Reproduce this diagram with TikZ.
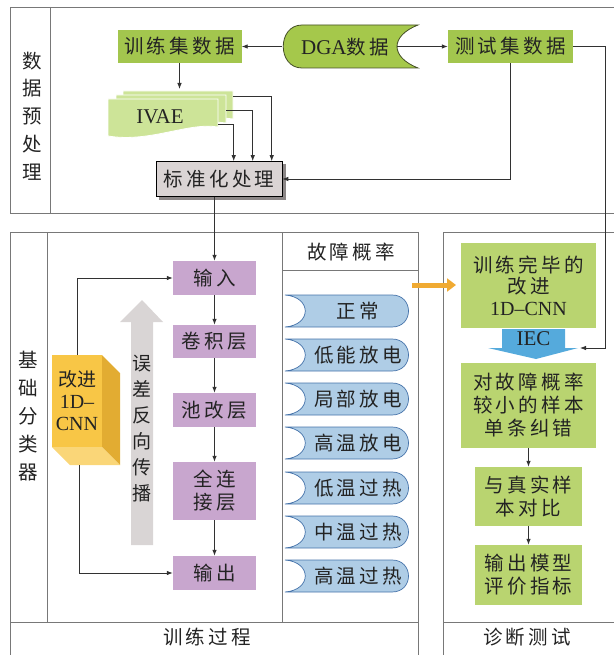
\documentclass[tikz,border=0pt]{standalone}
\usepackage{fontspec}
\setmainfont{Liberation Serif}
\newfontfamily\cjk[LetterSpace=17]{Noto Sans CJK SC}
\newfontfamily\cjkv{Noto Sans CJK SC}
\newfontfamily\lat{Liberation Serif}
\usetikzlibrary{arrows.meta,calc}
\definecolor{framec}{RGB}{120,120,120}
\definecolor{linec}{RGB}{50,50,50}
\definecolor{txtc}{RGB}{35,35,35}
\definecolor{greenA}{RGB}{163,198,78}
\definecolor{greenB}{RGB}{185,212,112}
\definecolor{greenL}{RGB}{205,228,152}
\definecolor{dgafill}{RGB}{165,200,75}
\definecolor{dgaline}{RGB}{70,80,40}
\definecolor{purp}{RGB}{200,166,206}
\definecolor{bluef}{RGB}{175,205,230}
\definecolor{bluel}{RGB}{70,115,170}
\definecolor{iecc}{RGB}{85,170,220}
\definecolor{orangeA}{RGB}{240,170,50}
\definecolor{yfront}{RGB}{248,198,70}
\definecolor{yside}{RGB}{226,172,50}
\definecolor{ybot}{RGB}{250,214,120}
\definecolor{grayA}{RGB}{217,213,213}
\definecolor{stdf}{RGB}{218,212,212}
\definecolor{stds}{RGB}{140,135,135}
\begin{document}
\begin{tikzpicture}[x=1pt,y=-1pt,
  frame/.style={draw=framec,line width=0.9pt},
  con/.style={draw=linec,line width=0.8pt},
  arr/.style={con,-{Latex[length=6pt,width=4.5pt]}},
  zh/.style={font=\cjk\fontsize{19.5}{22}\selectfont,align=center,inner sep=0pt,text=txtc},
  vz/.style={font=\cjkv\fontsize{19.5}{27.8}\selectfont,align=center,inner sep=0pt,text=txtc},
  pbox/.style={zh,fill=purp,minimum width=83pt},
  blueshape/.style={fill=bluef,draw=bluel,line width=0.7pt},
  doc/.style={fill=greenL,draw=white,line width=0.8pt},
  latf/.style={font=\lat\fontsize{21}{22}\selectfont,text=txtc,inner sep=0pt}
]
\useasboundingbox (0,0) rectangle (613,655);

% ---------- frames ----------
\draw[frame] (10,7) rectangle (625,213);
\draw[frame] (50,7) -- (50,213);
\draw[frame] (10,660) -- (10,232) -- (418,232) -- (418,660);
\draw[frame] (47,232) -- (47,622);
\draw[frame] (282,232) -- (282,622);
\draw[frame] (10,622) -- (418,622);
\draw[frame] (282,270) -- (418,270);
\draw[frame] (443,660) -- (443,232) -- (625,232);
\draw[frame] (443,622) -- (625,622);

% ---------- labels ----------
\node[vz] (lblA) at (32,116) {数\\据\\预\\处\\理};
\node[vz] (lblB) at (28,416) {基\\础\\分\\类\\器};
\node[zh] (lblC) at (207,637) {训练过程};
\node[zh] (lblD) at (527,637) {诊断测试};
\node[zh] (lblE) at (351,252) {故障概率};

% ---------- top row ----------
\node[zh,fill=greenA,minimum width=124pt,minimum height=33pt] (train) at (179.5,46.5) {训练集数据};
\node[zh,fill=greenA,minimum width=125pt,minimum height=33pt] (test) at (510.5,46.5) {测试集数据};
\path[fill=dgafill,draw=dgaline,line width=0.8pt]
  (302,25) -- (418,25) .. controls (390,36) and (390,57) .. (418,68)
  -- (302,68) .. controls (277,68) and (277,25) .. (302,25) -- cycle;
\node[zh] (dga) at (345,47) {{\lat\fontsize{21}{22}\selectfont DGA}数据};
\coordinate (dgaL) at (282,46.5);
\coordinate (dgaR) at (397,46.5);
\draw[arr] (dgaL) -- (train.east);
\draw[arr] (dgaR) -- (test.west);

% ---------- IVAE ----------
\foreach \dx/\dy in {15/-8,8/-4,0/0}{
  \path[doc] (108+\dx,99+\dy) -- (218+\dx,99+\dy) -- (218+\dx,127+\dy)
    .. controls (188+\dx,122+\dy) and (150+\dx,143+\dy) .. (108+\dx,136+\dy) -- cycle;
}
\node[latf] (ivae) at (160,117) {IVAE};
\coordinate (ivtop) at (179.5,89);
\draw[arr] (train.south) -- (ivtop);

% ---------- standardisation ----------
\fill[stds] (159,164) rectangle (286,200);
\node[zh,fill=stdf,draw=black,line width=0.6pt,minimum width=126pt,minimum height=35pt] (std) at (219,179) {标准化处理};
\coordinate (d1) at (218,124);
\coordinate (d2) at (226,110);
\coordinate (d3) at (233,96);
\draw[arr] (d1) -| ($(std.north west)+(78,0)$);
\draw[arr] (d2) -| ($(std.north west)+(97,0)$);
\draw[arr] (d3) -| ($(std.north west)+(116,0)$);
\draw[arr] (test.south) |- (std.east);

% ---------- training column ----------
\node[pbox,minimum height=34pt] (in) at (214.5,278) {输入};
\node[pbox,minimum height=33pt] (conv) at (214.5,341.5) {卷积层};
\node[pbox,minimum height=34pt] (pool) at (214.5,410) {池改层};
\node[pbox,minimum height=58pt,font=\cjk\fontsize{19.5}{23}\selectfont] (fc) at (214.5,491) {全连\\接层};
\node[pbox,minimum height=34pt] (out) at (214.5,573) {输出};
\draw[arr] (std.south -| in.north) -- (in.north);
\draw[arr] (in.south) -- (conv.north);
\draw[arr] (conv.south) -- (pool.north);
\draw[arr] (pool.south) -- (fc.north);
\draw[arr] (fc.south) -- (out.north);

% gray back-propagation arrow
\fill[grayA] (131,545) -- (131,322) -- (120,322) -- (142,300) -- (163,322) -- (153,322) -- (153,545) -- cycle;
\node[font=\cjkv\fontsize{19}{26}\selectfont,align=center,inner sep=0pt,text=txtc] (bp) at (142,429) {误\\差\\反\\向\\传\\播};

% yellow cuboid
\fill[yside] (102,355) -- (120,373) -- (120,465) -- (102,447) -- cycle;
\fill[ybot] (52,447) -- (102,447) -- (120,465) -- (70,465) -- cycle;
\node[fill=yfront,minimum width=50pt,minimum height=92pt,inner sep=0pt,align=center,
  font=\cjkv\fontsize{19}{22}\selectfont,text=txtc] (cnn) at (77,401)
  {改进\\{\lat\fontsize{20}{22}\selectfont 1D–}\\{\lat\fontsize{20}{22}\selectfont CNN}};
\coordinate (cnnb) at (79,465);
\draw[arr] (cnn.north) |- (in.west);
\draw[arr] (cnnb) |- (out.west);

% ---------- fault probability column ----------
\foreach \yy/\lbl [count=\i] in {311/正常,355/低能放电,399/局部放电,443/高温放电,488/低温过热,532/中温过热,576/高温过热}{
  \path[blueshape] (285,\yy-16) -- (392,\yy-16) .. controls (414,\yy-16) and (414,\yy+16) .. (392,\yy+16)
    -- (285,\yy+16) .. controls (312,\yy+14) and (312,\yy-14) .. (285,\yy-16) -- cycle;
  \node[zh] (p\i) at (358,\yy) {\lbl};
}

% orange arrow
\coordinate (oa) at (412,285);
\draw[orangeA,line width=5pt,-{Triangle[length=9pt,width=13pt]},shorten >=5pt] (oa) -- (oa -| 461,0);

% ---------- diagnosis column ----------
\node[zh,fill=greenB,minimum width=135pt,minimum height=85pt,font=\cjk\fontsize{19.5}{21.5}\selectfont] (trained) at (528.5,285.5)
  {训练完毕的\\改进\\{\lat\fontsize{20}{21.5}\selectfont 1D–CNN}};
\path[fill=iecc] (502,329) -- (565,329) -- (565,348) -- (578,348) -- (536,359) -- (488,348) -- (502,348) -- cycle;
\node[latf] (iec) at (533.5,339) {IEC};
\coordinate (iecR) at (580,348);
\draw[arr] (test.east) -- ++(32,0) |- (iecR);
\node[zh,fill=greenB,minimum width=135pt,minimum height=85pt,font=\cjk\fontsize{19.5}{23}\selectfont] (corr) at (528.5,405.5)
  {对故障概率\\较小的样本\\单条纠错};
\node[zh,fill=greenB,minimum width=107pt,minimum height=59pt,font=\cjk\fontsize{19.5}{23}\selectfont] (cmp) at (528.5,496.5) {与真实样\\本对比};
\node[zh,fill=greenB,minimum width=107pt,minimum height=60pt,font=\cjk\fontsize{19.5}{23}\selectfont] (eval) at (528.5,575) {输出模型\\评价指标};
\draw[arr] (corr.south) -- (cmp.north);
\draw[arr] (cmp.south) -- (eval.north);
\end{tikzpicture}
\end{document}
